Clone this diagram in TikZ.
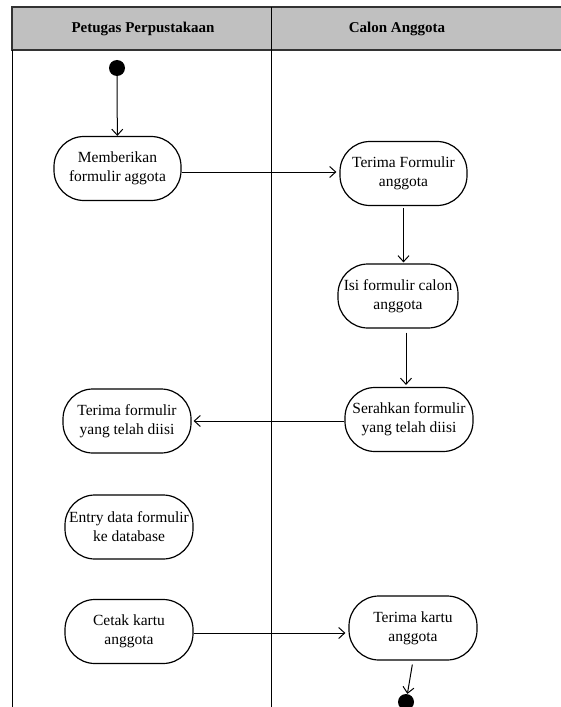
\documentclass[tikz,border=0pt]{standalone}
\usepackage{fontspec}
\setmainfont{Liberation Serif}
\usetikzlibrary{arrows.meta}
\begin{document}
\begin{tikzpicture}[x=1bp,y=-1bp,
  act/.style={draw, line width=1.2bp, rounded corners=30bp, minimum width=127bp, minimum height=64bp,
     align=center, inner sep=1bp, font=\fontsize{15.5bp}{19bp}\selectfont},
  dot/.style={circle, fill=black, minimum size=16bp, inner sep=0pt},
  arr/.style={line width=1bp, -{Straight Barb[length=6bp,width=11bp]}},
  lane/.style={line width=1bp},
  hdr/.style={font=\fontsize{15bp}{17bp}\selectfont\bfseries}]
\useasboundingbox (0,0) rectangle (561,707);
% swimlanes
\path[fill={rgb,255:red,192;green,192;blue,192}] (12,7) rectangle (580,50);
\draw[line width=1.3bp, black!80] (580,7) -- (12,7) -- (12,50) -- (580,50);
\draw[lane] (12,50) -- (12,715);
\draw[lane] (271,7) -- (271,715);
\node[hdr] (h1) at (143,29) {Petugas Perpustakaan};
\node[hdr] (h2) at (397,29) {Calon Anggota};
% nodes
\node[dot] (start) at (117,68) {};
\node[act] (n1) at (117.5,168.5) {Memberikan\\formulir aggota};
\node[act] (n2) at (403.5,173.5) {Terima Formulir\\anggota};
\node[act, minimum width=120bp] (n3) at (398,296) {Isi formulir calon\\anggota};
\node[act, minimum width=128bp] (n4) at (409,419.5) {Serahkan formulir\\yang telah diisi};
\node[act, minimum width=128bp] (n5) at (127,421) {Terima formulir\\yang telah diisi};
\node[act, minimum width=128bp] (n6) at (129,527) {Entry data formulir\\ke database};
\node[act, minimum width=128bp] (n7) at (129,631.5) {Cetak kartu\\anggota};
\node[act, minimum width=128bp] (n8) at (413,628) {Terima kartu\\anggota};
\node[dot] (end) at (406,702) {};
% helper coordinates
\coordinate (y1) at (0,172);
\coordinate (y2) at (0,421);
\coordinate (y3) at (0,633);
\coordinate (x3) at (406,0);
% connectors
\draw[arr] (start) -- (n1);
\draw[arr, shorten >=3bp] (n1.east |- y1) -- (n2.west |- y1);
\draw[arr, shorten <=2bp, shorten >=1bp] (n2.south) -- (n2.south |- n3.north);
\draw[arr, shorten <=4bp, shorten >=2bp] (n3.south -| x3) -- (n4.north -| x3);
\draw[arr, shorten >=2bp] (n4.west |- y2) -- (n5.east |- y2);
\draw[arr, shorten >=3bp] (n7.east |- y3) -- (n8.west |- y3);
\draw[arr, shorten <=4bp] (n8.south) -- (end);
\end{tikzpicture}
\end{document}
